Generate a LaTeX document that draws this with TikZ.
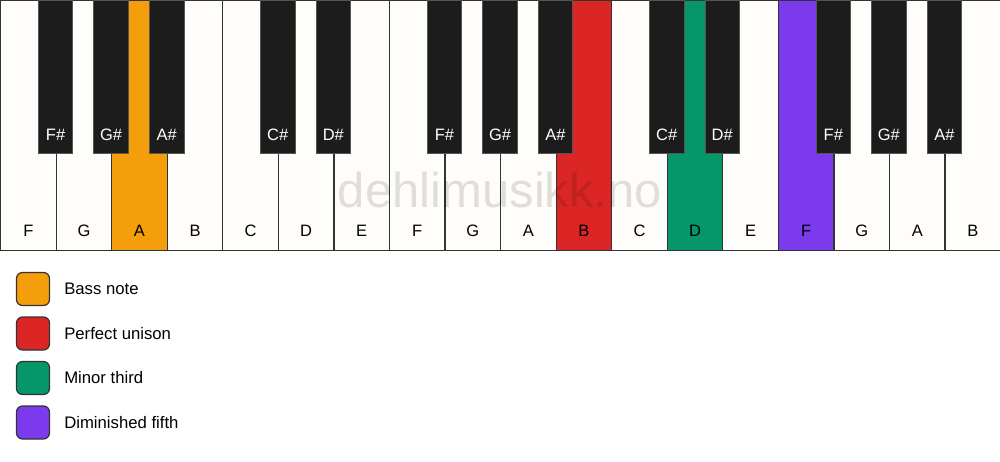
\documentclass[tikz,border=0pt]{standalone}
\usepackage{fontspec}
\setmainfont{Liberation Sans}
\usetikzlibrary{positioning}

\definecolor{keyWhite}{HTML}{FFFDF9}
\definecolor{keyBlack}{HTML}{1C1C1C}
\definecolor{keyLine}{HTML}{333333}
\definecolor{blackLine}{HTML}{555555}
\definecolor{bassCol}{HTML}{F59E0B}
\definecolor{unisonCol}{HTML}{DC2626}
\definecolor{thirdCol}{HTML}{059669}
\definecolor{fifthCol}{HTML}{7C3AED}

\newcommand{\keyFont}{\fontsize{16.5}{19}\selectfont}
\newcommand{\legendFont}{\fontsize{16.7}{20}\selectfont}

\tikzset{
  whiteKey/.style={rectangle, draw=keyLine, fill=keyWhite, line width=1.2pt, minimum width=55.56pt, minimum height=249.5pt, inner sep=0pt, anchor=north west},
  blackKey/.style={rectangle, draw=blackLine, fill=keyBlack, line width=0.8pt, minimum width=34.5pt, minimum height=153pt, inner sep=0pt, anchor=north},
  whiteName/.style={anchor=base, yshift=13.8pt, font=\keyFont, text=black, inner sep=0pt},
  blackName/.style={anchor=base, yshift=13.5pt, font=\keyFont, text=white, inner sep=0pt},
  legendBox/.style={rectangle, rounded corners=6pt, draw=keyLine, line width=1.2pt, minimum size=33pt, inner sep=0pt},
  legendText/.style={font=\legendFont, inner sep=0pt, anchor=west}
}

\begin{document}
\begin{tikzpicture}[x=1pt, y=-1pt]
    \fill[white] (0,0) rectangle (1000,461);
    \useasboundingbox (0,0) rectangle (1000,461);

    % white keys
    \node[whiteKey] (w_F1) at (0,      0) [label={[whiteName]south:F}] {};
    \node[whiteKey] (w_G1) at (55.56,  0) [label={[whiteName]south:G}] {};
    \node[whiteKey, fill=bassCol] (w_A1) at (111.11, 0) [label={[whiteName]south:A}] {};
    \node[whiteKey] (w_B1) at (166.67, 0) [label={[whiteName]south:B}] {};
    \node[whiteKey] (w_C1) at (222.22, 0) [label={[whiteName]south:C}] {};
    \node[whiteKey] (w_D1) at (277.78, 0) [label={[whiteName]south:D}] {};
    \node[whiteKey] (w_E1) at (333.33, 0) [label={[whiteName]south:E}] {};
    \node[whiteKey] (w_F2) at (388.89, 0) [label={[whiteName]south:F}] {};
    \node[whiteKey] (w_G2) at (444.44, 0) [label={[whiteName]south:G}] {};
    \node[whiteKey] (w_A2) at (500,    0) [label={[whiteName]south:A}] {};
    \node[whiteKey, fill=unisonCol] (w_B2) at (555.56, 0) [label={[whiteName]south:B}] {};
    \node[whiteKey] (w_C2) at (611.11, 0) [label={[whiteName]south:C}] {};
    \node[whiteKey, fill=thirdCol] (w_D2) at (666.67, 0) [label={[whiteName]south:D}] {};
    \node[whiteKey] (w_E2) at (722.22, 0) [label={[whiteName]south:E}] {};
    \node[whiteKey, fill=fifthCol] (w_F3) at (777.78, 0) [label={[whiteName]south:F}] {};
    \node[whiteKey] (w_G3) at (833.33, 0) [label={[whiteName]south:G}] {};
    \node[whiteKey] (w_A3) at (888.89, 0) [label={[whiteName]south:A}] {};
    \node[whiteKey] (w_B3) at (944.44, 0) [label={[whiteName]south:B}] {};

    % black keys
    \node[blackKey] (b_Fs1) at (55.56,  0) [label={[blackName]south:F\#}] {};
    \node[blackKey] (b_Gs1) at (111.11, 0) [label={[blackName]south:G\#}] {};
    \node[blackKey] (b_As1) at (166.67, 0) [label={[blackName]south:A\#}] {};
    \node[blackKey] (b_Cs1) at (277.78, 0) [label={[blackName]south:C\#}] {};
    \node[blackKey] (b_Ds1) at (333.33, 0) [label={[blackName]south:D\#}] {};
    \node[blackKey] (b_Fs2) at (444.44, 0) [label={[blackName]south:F\#}] {};
    \node[blackKey] (b_Gs2) at (500,    0) [label={[blackName]south:G\#}] {};
    \node[blackKey] (b_As2) at (555.56, 0) [label={[blackName]south:A\#}] {};
    \node[blackKey] (b_Cs2) at (666.67, 0) [label={[blackName]south:C\#}] {};
    \node[blackKey] (b_Ds2) at (722.22, 0) [label={[blackName]south:D\#}] {};
    \node[blackKey] (b_Fs3) at (833.33, 0) [label={[blackName]south:F\#}] {};
    \node[blackKey] (b_Gs3) at (888.89, 0) [label={[blackName]south:G\#}] {};
    \node[blackKey] (b_As3) at (944.44, 0) [label={[blackName]south:A\#}] {};

    % watermark
    \node[anchor=base, font=\fontsize{49}{55}\selectfont, text=black, text opacity=0.12, inner sep=0pt] (mark) at (500,207) {dehlimusikk.no};

    % legend
    \node[legendBox, fill=bassCol]   (leg_bass)   at (33,289)   {};
    \node[legendBox, fill=unisonCol] (leg_unison) at (33,333.5) {};
    \node[legendBox, fill=thirdCol]  (leg_third)  at (33,378)   {};
    \node[legendBox, fill=fifthCol]  (leg_fifth)  at (33,422.5) {};

    \node[legendText, right=14pt of leg_bass]   (txt_bass)   {Bass note};
    \node[legendText, right=14pt of leg_unison] (txt_unison) {Perfect unison};
    \node[legendText, right=14pt of leg_third]  (txt_third)  {Minor third};
    \node[legendText, right=14pt of leg_fifth]  (txt_fifth)  {Diminished fifth};
\end{tikzpicture}
\end{document}
